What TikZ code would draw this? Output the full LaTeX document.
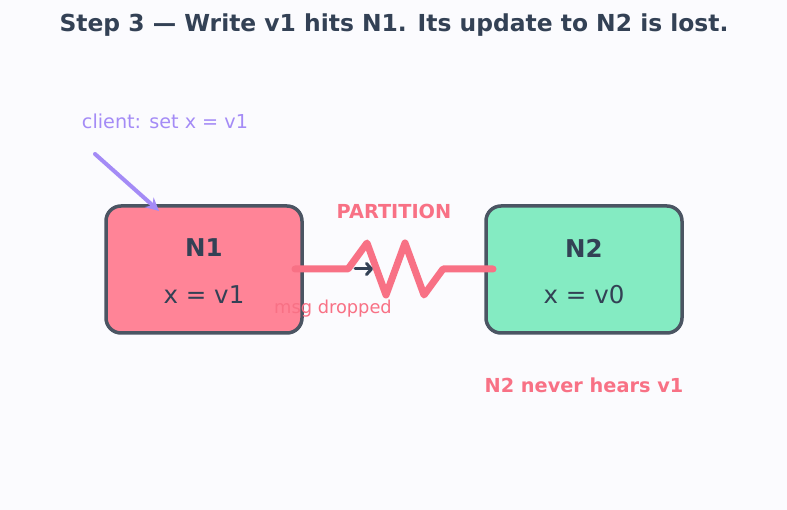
\documentclass[tikz,border=0pt]{standalone}
\usepackage{fontspec}
\setmainfont{DejaVu Sans}
\usetikzlibrary{arrows.meta, positioning}
\definecolor{ink}{HTML}{334155}
\definecolor{edge}{HTML}{4B5563}
\definecolor{hot}{HTML}{F87185}
\definecolor{nodeA}{HTML}{FF8497}
\definecolor{nodeB}{HTML}{84EBC2}
\definecolor{lila}{HTML}{A48BF6}
\definecolor{paper}{HTML}{FBFBFE}
\tikzset{
  server/.style={draw=edge, line width=3.5pt, rounded corners=15pt,
    minimum width=196pt, minimum height=127pt},
  hotlabel/.style={text=hot, font=\bfseries\fontsize{19.3}{22}\selectfont}
}
\begin{document}
\begin{tikzpicture}[x=1pt,y=-1pt]
    \fill[paper] (0,0) rectangle (787,510);
    \useasboundingbox (0,0) rectangle (787,510);
    \node[at={(394,25)},text=ink,font=\bfseries\fontsize{23.4}{27}\selectfont] (title)
      {Step 3 — Write v1 hits N1. Its update to N2 is lost.};
    % the two servers
    \node[server,fill=nodeA,at={(204,269.5)}] (n1) {};
    \node[server,fill=nodeB,at={(584,269.5)}] (n2) {};
    \node[at={(204,248)},text=ink,font=\bfseries\fontsize{24.5}{28}\selectfont] (n1name) {N1};
    \node[at={(204,295)},text=ink,font=\fontsize{24.5}{28}\selectfont] (n1val) {x = v1};
    \node[at={(584,248)},text=ink,font=\bfseries\fontsize{24.5}{28}\selectfont] (n2name) {N2};
    \node[at={(584,295)},text=ink,font=\fontsize{24.5}{28}\selectfont] (n2val) {x = v0};
    % partition
    \coordinate (p1) at (295,269);
    \coordinate (p2) at (493,269);
    \draw[hot,line width=7pt,line cap=round,line join=round]
      (p1) -- (348,269) -- (367,243) -- (386,295) -- (405,243) -- (424,295) -- (443,269) -- (p2);
    \coordinate (m1) at (355,269);
    \coordinate (m2) at (373,269);
    \draw[ink,line width=3pt,line cap=round,
      -{Straight Barb[length=5pt,width=11pt,round]}] (m1) -- (m2);
    \node[at={(394,211)},hotlabel] (part) {PARTITION};
    \node[at={(333,309)},text=hot,font=\fontsize{17.8}{20}\selectfont] (drop) {msg dropped};
    % client write
    \node[at={(165,121)},text=lila,font=\fontsize{19.2}{22}\selectfont] (client) {client: set x = v1};
    \coordinate (c0) at (95,154);
    \coordinate (c1) at (159,211);
    \draw[lila,line width=4pt,line cap=round,-{Stealth[length=13pt,width=13pt]}] (c0) -- (c1);
    \node[at={(584,385)},hotlabel] (never) {N2 never hears v1};
\end{tikzpicture}
\end{document}
